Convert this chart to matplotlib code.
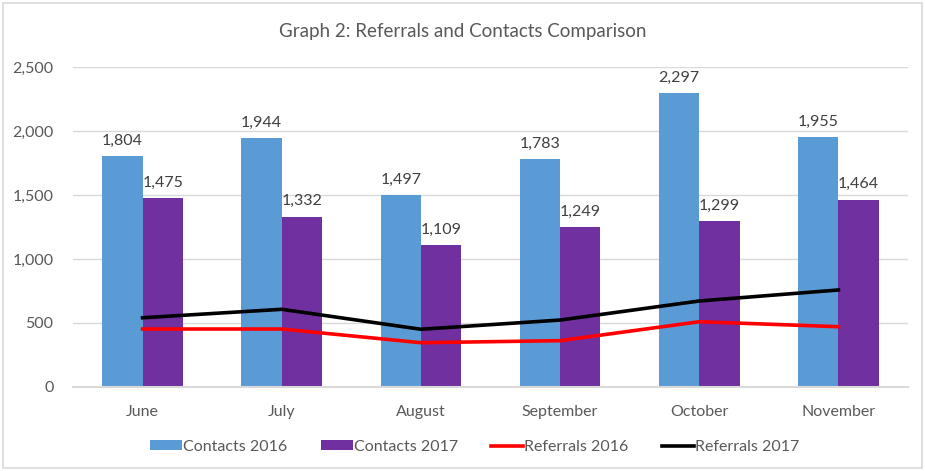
import numpy as np
import matplotlib.pyplot as plt
from matplotlib.patches import Rectangle

months = ['June', 'July', 'August', 'September', 'October', 'November']
contacts_2016 = [1804, 1944, 1497, 1783, 2297, 1955]
contacts_2017 = [1475, 1332, 1109, 1249, 1299, 1464]
referrals_2016 = [453, 453, 346, 362, 510, 471]
referrals_2017 = [541, 607, 451, 523, 672, 758]

plt.rcParams['font.family'] = ['Lato', 'DejaVu Sans']

fig = plt.figure(figsize=(9.25, 4.71), dpi=100)
ax = fig.add_axes([73 / 925, 1 - 387 / 471, (908 - 73) / 925, 320 / 471])

x = np.arange(len(months))
w = 0.29
b1 = ax.bar(x - w / 2, contacts_2016, w, color='#5b9bd5', label='Contacts 2016', zorder=2)
b2 = ax.bar(x + w / 2, contacts_2017, w, color='#7030a0', label='Contacts 2017', zorder=2)
l1, = ax.plot(x, referrals_2016, color='#ff0000', lw=2.6, label='Referrals 2016', zorder=3)
l2, = ax.plot(x, referrals_2017, color='black', lw=2.6, label='Referrals 2017', zorder=3)

for bars in (b1, b2):
    ax.bar_label(bars, labels=[f'{v:,}' for v in bars.datavalues], padding=6,
                 fontsize=11.5, color='#404040')

ax.set_xlim(-0.5, len(months) - 0.5)
ax.set_ylim(0, 2500)
ax.set_yticks(range(0, 2501, 500))
ax.set_yticklabels([f'{v:,}' for v in range(0, 2501, 500)])
ax.set_xticks(x)
ax.set_xticklabels(months)
ax.tick_params(axis='both', length=0, labelsize=11.5, labelcolor='#595959')
ax.tick_params(axis='y', pad=14)
ax.tick_params(axis='x', pad=13)
ax.yaxis.grid(True, color='#d9d9d9', lw=1, zorder=0)
for s in ['top', 'right', 'left']:
    ax.spines[s].set_visible(False)
ax.spines['bottom'].set_color('#d9d9d9')
ax.spines['bottom'].set_linewidth(1.5)

fig.text(0.5, 1 - 32 / 471, 'Graph 2: Referrals and Contacts Comparison',
         ha='center', va='center', fontsize=13.5, color='#595959')

fig.legend([b1, b2, l1, l2], ['Contacts 2016', 'Contacts 2017', 'Referrals 2016', 'Referrals 2017'],
           loc='center', bbox_to_anchor=(0.513, 1 - 447 / 471), ncol=4, frameon=False,
           fontsize=11.5, labelcolor='#595959', handlelength=2.0, handletextpad=0.05,
           columnspacing=2.1, handleheight=0.6)

fig.patches.append(Rectangle((3 / 925, 3 / 471), 919 / 925, 465 / 471, transform=fig.transFigure,
                             fill=False, edgecolor='#d9d9d9', lw=1.2))

fig.savefig('out.png', dpi=100)
